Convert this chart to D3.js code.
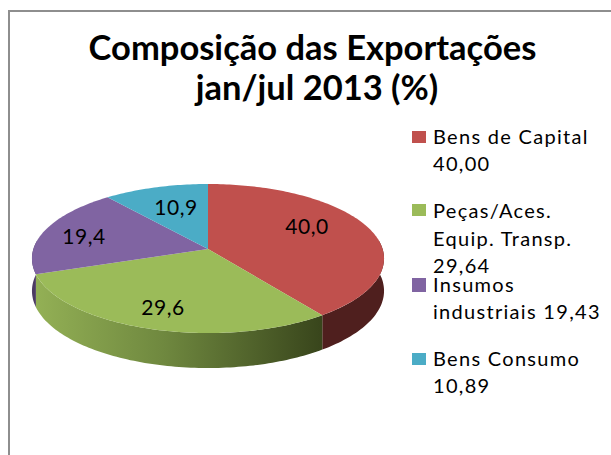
<!DOCTYPE html>
<html>
<head>
<meta charset="utf-8">
<script src="https://cdn.jsdelivr.net/npm/d3@7"></script>
<style>
html, body { margin: 0; padding: 0; background: #fff; }
text { font-family: Lato, "Open Sans", sans-serif; fill: #000; }
</style>
</head>
<body>
<svg id="chart"></svg>
<script>
// values as printed in the legend
const categories = ["Bens de Capital", "Peças/Aces. Equip. Transp.", "Insumos industriais", "Bens Consumo"];
const values = [40.00, 29.64, 19.43, 10.89];
const valueLabels = ["40,0", "29,6", "19,4", "10,9"];
const colors = ["#c0504d", "#9bbb59", "#8064a2", "#4bacc6"];
const titleLines = ["Composição das Exportações", "jan/jul 2013 (%)"];
const legendLines = [
    ["Bens de Capital", "40,00"],
    ["Peças/Aces.", "Equip. Transp.", "29,64"],
    ["Insumos", "industriais 19,43"],
    ["Bens Consumo", "10,89"]
];

const width = 611;
const height = 455;

const svg = d3.select("#chart")
    .attr("width", width)
    .attr("height", height)
    .style("display", "block");

// frame of the pasted picture, open on the right and at the bottom
svg.append("path")
    .attr("d", `M9,${height}V11H${width}`)
    .attr("fill", "none")
    .attr("stroke", "#8e8e8e")
    .attr("stroke-width", 2);

const defs = svg.append("defs");
const greenSide = defs.append("linearGradient")
    .attr("id", "greenSide")
    .attr("gradientUnits", "userSpaceOnUse")
    .attr("x1", 36).attr("x2", 320).attr("y1", 0).attr("y2", 0);
greenSide.append("stop").attr("offset", "0%").attr("stop-color", "#93b055");
greenSide.append("stop").attr("offset", "45%").attr("stop-color", "#6f883f");
greenSide.append("stop").attr("offset", "100%").attr("stop-color", "#39461c");

const sideColors = ["#4f1f1e", "url(#greenSide)", "#4c3b62", "#2d6776"];

// tilted disc with a little perspective: the apex sits above the ellipse centre
const cx = 208, cy = 249, R = 174.6, k = 73.3, p = 0.1275;
function project(a, lift) {
    const u = Math.sin(a), v = -Math.cos(a);
    const s = 1 - p * v;
    return [cx + R * u / s, cy + k * v / s + (lift ? 32 + 3 * v : 0)];
}

const pie = d3.pie().sort(null).value(d => d);
const arcs = pie(values);
const line = d3.line();

function rim(a0, a1, lift) {
    const n = Math.max(2, Math.ceil((a1 - a0) / 0.02));
    return d3.range(n + 1).map(i => project(a0 + (a1 - a0) * i / n, lift));
}

// side wall: only the near half of the disc shows
const nearFrom = Math.PI * 0.5 - 0.12, nearTo = Math.PI * 1.5 + 0.12;
svg.append("g").selectAll("path")
    .data(arcs)
    .enter().append("path")
    .filter(d => Math.max(d.startAngle, nearFrom) < Math.min(d.endAngle, nearTo))
    .attr("d", d => {
        const a0 = Math.max(d.startAngle, nearFrom), a1 = Math.min(d.endAngle, nearTo);
        return line(rim(a0, a1, false).concat(rim(a0, a1, true).reverse())) + "Z";
    })
    .attr("fill", d => sideColors[d.index]);

// top faces
svg.append("g").selectAll("path")
    .data(arcs)
    .enter().append("path")
    .attr("d", d => line([[cx, cy]].concat(rim(d.startAngle, d.endAngle, false))) + "Z")
    .attr("fill", d => colors[d.index]);

// title
const titleX = [312.5, 317];
svg.append("g").selectAll("text")
    .data(titleLines)
    .enter().append("text")
    .attr("x", (d, i) => titleX[i])
    .attr("y", (d, i) => 60 + i * 40)
    .attr("text-anchor", "middle")
    .attr("font-size", 34.5)
    .attr("font-weight", 700)
    .text(d => d);

// value labels on the slices
const labelPos = [[307, 234], [163, 315], [84, 244], [176, 215]];
svg.append("g").selectAll("text")
    .data(valueLabels)
    .enter().append("text")
    .attr("x", (d, i) => labelPos[i][0])
    .attr("y", (d, i) => labelPos[i][1])
    .attr("text-anchor", "middle")
    .attr("font-size", 21)
    .attr("letter-spacing", 0.6)
    .text(d => d);

// legend
const swatchY = [131, 204, 278, 353];
const swatchH = [12, 12, 14, 12];
const legendFirst = [144, 218, 292, 366];
const legendStep = [27, 27.5, 27, 27];
const legend = svg.append("g").selectAll("g")
    .data(legendLines)
    .enter().append("g");
legend.append("rect")
    .attr("x", 412)
    .attr("y", (d, i) => swatchY[i])
    .attr("width", 14)
    .attr("height", (d, i) => swatchH[i])
    .attr("fill", (d, i) => colors[i]);
legend.each(function (lines, i) {
    d3.select(this).selectAll("text")
        .data(lines)
        .enter().append("text")
        .attr("x", 433)
        .attr("y", (d, j) => legendFirst[i] + j * legendStep[i])
        .attr("font-size", 20)
        .attr("letter-spacing", 1.3)
        .text(d => d);
});
</script>
</body>
</html>
